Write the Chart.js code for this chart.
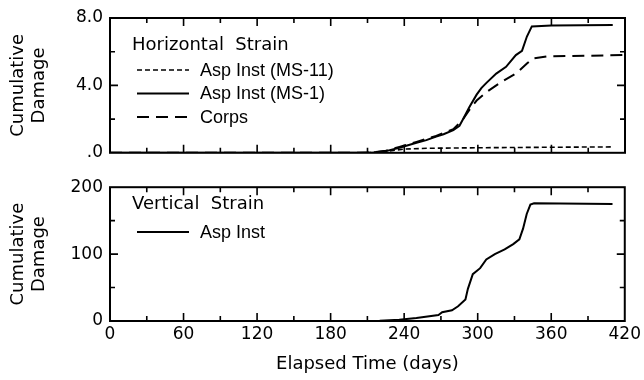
<!DOCTYPE html>
<html>
<head>
<meta charset="utf-8">
<title>Cumulative Damage</title>
<script src="https://cdn.jsdelivr.net/npm/chart.js@4"></script>
<style>
  body { margin: 0; background: #fff; }
  #wrap { position: relative; width: 644px; height: 380px; }
  canvas { position: absolute; left: 0; }
  #topChart { top: 0; }
  #botChart { top: 170px; }
</style>
</head>
<body>
<div id="wrap">
  <canvas id="topChart" width="644" height="170"></canvas>
  <canvas id="botChart" width="644" height="210"></canvas>
</div>
<script>
// horizontal strain, Asp Inst (MS-1)
const ms1Days   = [0, 200, 215, 225, 236, 250, 258, 266, 272, 280, 285, 288, 293, 299, 303, 307, 315, 323, 331, 336, 340, 344, 360, 410];
const ms1Damage = [0, 0, 0.02, 0.1, 0.3, 0.6, 0.75, 0.97, 1.1, 1.35, 1.6, 2.0, 2.7, 3.45, 3.85, 4.15, 4.7, 5.1, 5.8, 6.05, 6.9, 7.5, 7.55, 7.58];

// horizontal strain, Corps
const corpsDays   = [0, 200, 215, 225, 236, 250, 266, 280, 288, 294, 299, 307, 318, 332, 340, 345, 356, 420];
const corpsDamage = [0, 0, 0.03, 0.12, 0.35, 0.65, 1.0, 1.4, 2.0, 2.65, 3.1, 3.6, 4.15, 4.75, 5.3, 5.6, 5.72, 5.8];

// horizontal strain, Asp Inst (MS-11)
const ms11Days   = [0, 210, 225, 240, 260, 300, 360, 410];
const ms11Damage = [0, 0, 0.08, 0.22, 0.27, 0.3, 0.33, 0.35];

// vertical strain, Asp Inst
const vertDays   = [0, 200, 220, 236, 250, 268, 271, 279, 284, 290, 292, 296, 302, 307, 314, 322, 329, 334, 337, 340, 343, 346, 410];
const vertDamage = [0, 0, 0.5, 2, 4.5, 9, 13, 16, 22, 32, 48, 70, 79, 92, 100, 107, 115, 122, 138, 160, 174, 176, 175];

const xTicks = [0, 60, 120, 180, 240, 300, 360, 420];

const tickFont = { family: "DejaVu Sans", size: 17 };
const titleFont = { family: "DejaVu Sans", size: 18, lineHeight: 1.15 };

function pts(xs, ys){
  return xs.map((x, i) => ({ x: x, y: ys[i] }));
}

// box frame + inward tick marks on all four sides
const framePlugin = {
  id: "frame",
  afterDatasetsDraw(chart, args, opts){
    const { ctx, chartArea: a, scales } = chart;
    const xs = scales.x, ys = scales.y;
    ctx.save();
    ctx.strokeStyle = "#000";
    ctx.lineWidth = 1.6;
    ctx.beginPath();
    for (let v = opts.xMinor; v < xs.max; v += opts.xMinor){
      const px = xs.getPixelForValue(v);
      const len = (v % opts.xMajor === 0) ? 8 : 5;
      ctx.moveTo(px, a.top); ctx.lineTo(px, a.top + len);
      ctx.moveTo(px, a.bottom); ctx.lineTo(px, a.bottom - len);
    }
    for (let v = opts.yMinor; v < ys.max; v += opts.yMinor){
      const py = ys.getPixelForValue(v);
      const len = (v % opts.yMajor === 0) ? 8 : 5;
      ctx.moveTo(a.left, py); ctx.lineTo(a.left + len, py);
      ctx.moveTo(a.right, py); ctx.lineTo(a.right - len, py);
    }
    ctx.stroke();
    ctx.lineWidth = 2;
    ctx.strokeRect(a.left, a.top, a.right - a.left, a.bottom - a.top);
    ctx.restore();
  }
};

// heading + line samples in the upper left of each panel
const keyPlugin = {
  id: "key",
  afterDraw(chart, args, opts){
    const ctx = chart.ctx;
    ctx.save();
    ctx.fillStyle = "#000";
    ctx.textBaseline = "middle";
    ctx.font = "18px 'DejaVu Sans'";
    ctx.fillText(opts.heading, opts.x - 5, opts.headY);
    ctx.font = "18px 'Liberation Sans'";
    opts.items.forEach((it, i) => {
      const y = opts.firstY + i * opts.gap;
      const ds = chart.data.datasets[it.ds];
      ctx.strokeStyle = "#000";
      ctx.lineWidth = ds.borderWidth;
      ctx.setLineDash(ds.borderDash || []);
      ctx.beginPath();
      ctx.moveTo(opts.x, y);
      ctx.lineTo(opts.x + 52, y);
      ctx.stroke();
      ctx.fillText(ds.label, opts.x + 63, y + 1);
    });
    ctx.restore();
  }
};

function yScale(max, step, labelFn, top){
  return {
    min: 0, max: max,
    afterFit(s){ s.width = 110; },
    grid: { display: false, drawTicks: false },
    border: { display: false },
    ticks: { stepSize: step, color: "#000", font: tickFont, padding: 7, callback: labelFn },
    title: { display: true, text: ["Cumulative", "Damage"], color: "#000", font: titleFont, padding: { top: 8 } }
  };
}

const topChart = new Chart(document.getElementById("topChart"), {
  type: "line",
  data: {
    datasets: [
      { label: "Asp Inst (MS-11)", data: pts(ms11Days, ms11Damage), borderColor: "#000", borderWidth: 1.6, borderDash: [5, 3] },
      { label: "Asp Inst (MS-1)", data: pts(ms1Days, ms1Damage), borderColor: "#000", borderWidth: 2 },
      { label: "Corps", data: pts(corpsDays, corpsDamage), borderColor: "#000", borderWidth: 2, borderDash: [12, 7] }
    ]
  },
  options: {
    responsive: false,
    animation: false,
    layout: { padding: { top: 18, right: 19, bottom: 11, left: 0 } },
    elements: { point: { radius: 0 }, line: { tension: 0 } },
    plugins: {
      legend: { display: false },
      tooltip: { enabled: false },
      frame: { xMinor: 30, xMajor: 60, yMinor: 2, yMajor: 4 },
      key: {
        heading: "Horizontal  Strain", x: 137, headY: 45, firstY: 70, gap: 23.5,
        items: [{ ds: 0 }, { ds: 1 }, { ds: 2 }]
      }
    },
    scales: {
      x: { type: "linear", min: 0, max: 420, display: false },
      y: yScale(8, 4, v => v === 0 ? ".0" : v.toFixed(1))
    }
  },
  plugins: [framePlugin, keyPlugin]
});

const botChart = new Chart(document.getElementById("botChart"), {
  type: "line",
  data: {
    datasets: [
      { label: "Asp Inst", data: pts(vertDays, vertDamage), borderColor: "#000", borderWidth: 2 }
    ]
  },
  options: {
    responsive: false,
    animation: false,
    layout: { padding: { top: 10, right: 19, bottom: 0, left: 0 } },
    elements: { point: { radius: 0 }, line: { tension: 0 } },
    plugins: {
      legend: { display: false },
      tooltip: { enabled: false },
      frame: { xMinor: 30, xMajor: 60, yMinor: 50, yMajor: 100 },
      key: {
        heading: "Vertical  Strain", x: 137, headY: 34, firstY: 62, gap: 23,
        items: [{ ds: 0 }]
      }
    },
    scales: {
      x: {
        type: "linear", min: 0, max: 420,
        afterFit(s){ s.height = 59; },
        afterBuildTicks(s){ s.ticks = xTicks.map(v => ({ value: v })); },
        grid: { display: false, drawTicks: false },
        border: { display: false },
        ticks: { color: "#000", font: tickFont, padding: 3, autoSkip: false, maxRotation: 0 },
        title: { display: true, text: "Elapsed Time (days)", color: "#000", font: titleFont, padding: { bottom: 5 } }
      },
      y: yScale(200, 100, v => String(v))
    }
  },
  plugins: [framePlugin, keyPlugin]
});
</script>
</body>
</html>
